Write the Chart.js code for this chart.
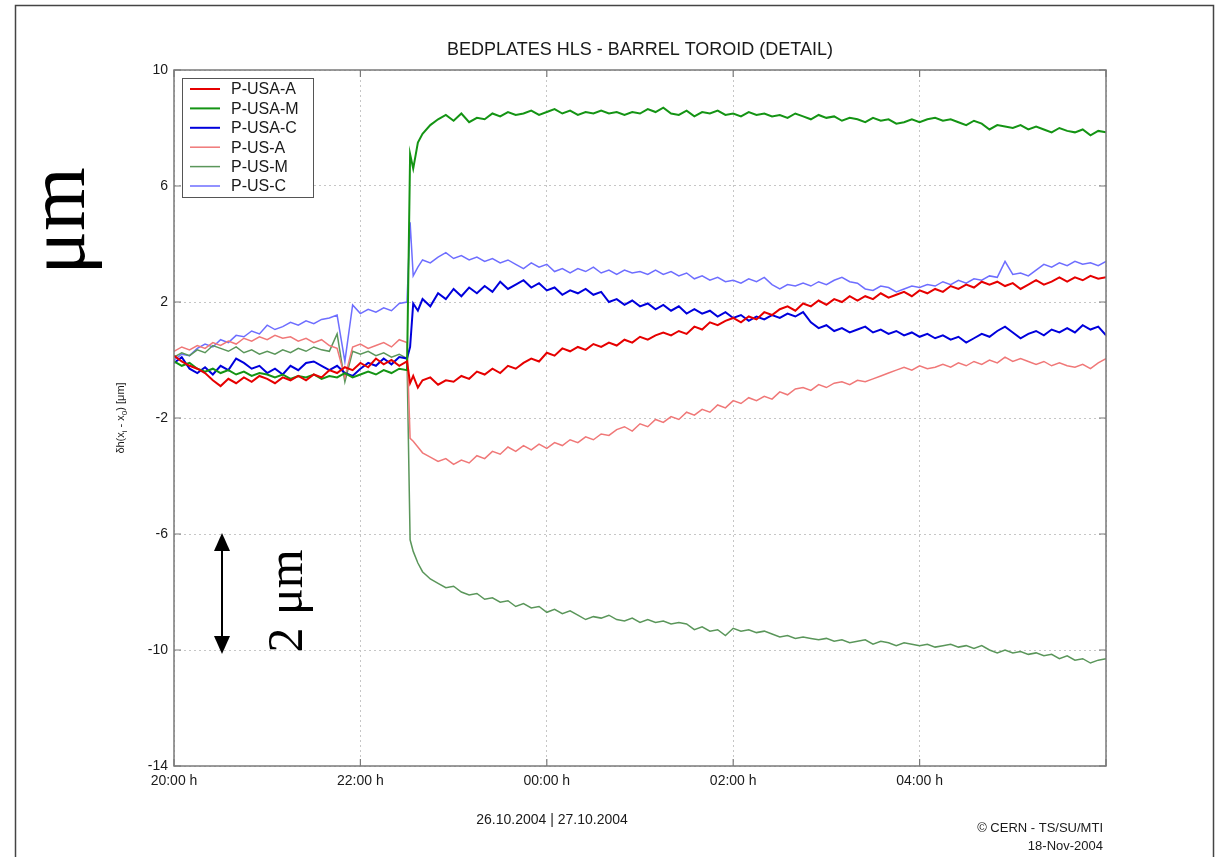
<!DOCTYPE html>
<html>
<head>
<meta charset="utf-8">
<script src="https://cdn.jsdelivr.net/npm/chart.js@4.4.0/dist/chart.umd.min.js"></script>
<style>
  html, body { margin: 0; padding: 0; background: #fff; }
  #wrap { width: 1220px; height: 857px; }
</style>
</head>
<body>
<div id="wrap"><canvas id="canvasHls" width="1220" height="857"></canvas></div>
<script>
// minutes after 20:00 on 26.10.2004
var times = [
    0, 5, 10, 15, 20, 25, 30, 35, 40, 45,
    50, 55, 60, 65, 70, 75, 80, 85, 90, 95,
    100, 105, 110, 115, 120, 125, 130, 135, 140, 145,
    150, 152, 154, 157,
    160, 165, 170, 175, 180, 185, 190, 195, 200, 205,
    210, 215, 220, 225, 230, 235, 240, 245, 250, 255,
    260, 265, 270, 275, 280, 285, 290, 295, 300, 305,
    310, 315, 320, 325, 330, 335, 340, 345, 350, 355,
    360, 365, 370, 375, 380, 385, 390, 395, 400, 405,
    410, 415, 420, 425, 430, 435, 440, 445, 450, 455,
    460, 465, 470, 475, 480, 485, 490, 495, 500, 505,
    510, 515, 520, 525, 530, 535, 540, 545, 550, 555,
    560, 565, 570, 575, 580, 585, 590, 595, 600
];

var pUsaA = [
    0.15, -0.05, -0.2, -0.3, -0.45, -0.7, -0.9, -0.65, -0.8, -0.6,
    -0.75, -0.55, -0.65, -0.8, -0.6, -0.7, -0.55, -0.7, -0.5, -0.6,
    -0.35, -0.45, -0.25, -0.35, -0.1, -0.25, 0.05, -0.15, 0.0, -0.2,
    -0.05, -0.8, -0.55, -0.95,
    -0.7, -0.6, -0.85, -0.7, -0.75, -0.55, -0.65, -0.4, -0.5, -0.3,
    -0.45, -0.2, -0.3, -0.1, 0.05, -0.05, 0.25, 0.15, 0.4, 0.3,
    0.45, 0.35, 0.55, 0.45, 0.6, 0.5, 0.7, 0.6, 0.8, 0.7,
    0.85, 0.95, 0.85, 1.0, 0.9, 1.15, 1.05, 1.3, 1.2, 1.35,
    1.45, 1.3, 1.5, 1.4, 1.65, 1.55, 1.75, 1.85, 1.7, 1.95,
    1.85, 2.05, 1.9, 2.1, 2.0, 2.2, 2.05, 2.2, 2.1, 2.3,
    2.15, 2.25, 2.35, 2.2, 2.4, 2.3, 2.45, 2.35, 2.55, 2.45,
    2.6, 2.5, 2.7, 2.6, 2.7, 2.55, 2.65, 2.45, 2.6, 2.75,
    2.6, 2.7, 2.85, 2.7, 2.85, 2.75, 2.9, 2.8, 2.85
];

var pUsaM = [
    -0.05, -0.2, -0.1, -0.3, -0.4, -0.3, -0.45, -0.35, -0.5, -0.4,
    -0.55, -0.45, -0.5, -0.6, -0.5, -0.65, -0.55, -0.6, -0.5, -0.65,
    -0.55, -0.6, -0.45, -0.6, -0.5, -0.4, -0.5, -0.35, -0.45, -0.3,
    -0.35, 7.1, 6.6, 7.5,
    7.8, 8.1, 8.3, 8.45, 8.25, 8.5, 8.2, 8.35, 8.3, 8.5,
    8.4, 8.55, 8.45, 8.5, 8.6, 8.45, 8.55, 8.65, 8.5, 8.6,
    8.45, 8.55, 8.5, 8.6, 8.5, 8.55, 8.45, 8.55, 8.5, 8.65,
    8.55, 8.7, 8.5, 8.45, 8.6, 8.4, 8.55, 8.5, 8.6, 8.45,
    8.5, 8.4, 8.55, 8.45, 8.5, 8.4, 8.45, 8.35, 8.5, 8.4,
    8.3, 8.45, 8.35, 8.4, 8.25, 8.35, 8.3, 8.2, 8.35, 8.25,
    8.3, 8.15, 8.2, 8.3, 8.2, 8.3, 8.35, 8.25, 8.3, 8.2,
    8.1, 8.25, 8.15, 7.95, 8.1, 8.05, 8.0, 8.1, 7.95, 8.05,
    7.95, 7.85, 8.0, 7.9, 7.85, 7.95, 7.75, 7.9, 7.85
];

var pUsaC = [
    -0.1, 0.1, -0.3, -0.45, -0.25, -0.5, -0.2, -0.35, 0.05, -0.1,
    -0.3, -0.2, -0.45, -0.3, -0.5, -0.2, -0.35, -0.1, -0.05, -0.2,
    -0.35, -0.2, -0.45, -0.55, -0.3, -0.1, -0.2, 0.05, -0.15, 0.1,
    0.05, 0.45, 1.95, 1.7,
    2.1, 1.85, 2.3, 2.1, 2.45, 2.2, 2.5, 2.3, 2.55, 2.35,
    2.7, 2.45, 2.6, 2.75, 2.5, 2.65, 2.4, 2.5, 2.25, 2.4,
    2.3, 2.45, 2.25, 2.35, 2.0, 2.1, 1.9, 2.05, 1.85, 1.95,
    1.75, 1.9, 1.7, 1.85, 1.6, 1.75, 1.6, 1.7, 1.5, 1.65,
    1.45, 1.55, 1.35, 1.5, 1.4, 1.55, 1.45, 1.6, 1.5, 1.65,
    1.3, 1.1, 1.2, 1.0, 1.1, 0.95, 1.05, 1.15, 0.95, 1.05,
    0.9, 1.0, 0.85, 0.95, 0.8, 0.9, 0.75, 0.85, 0.7, 0.8,
    0.6, 0.75, 0.9, 0.8, 1.0, 1.15, 0.95, 0.75, 0.9, 1.0,
    0.85, 1.05, 0.95, 1.1, 0.95, 1.2, 1.05, 1.15, 0.85
];

var pUsA = [
    0.3, 0.45, 0.35, 0.5, 0.4, 0.6, 0.5, 0.65, 0.55, 0.75,
    0.65, 0.8, 0.7, 0.85, 0.75, 0.8, 0.65, 0.75, 0.6, 0.7,
    0.5, 0.4, -0.6, 0.45, 0.55, 0.4, 0.5, 0.6, 0.45, 0.7,
    0.6, -2.7, -2.8, -3.0,
    -3.2, -3.35, -3.5, -3.4, -3.6, -3.45, -3.55, -3.3, -3.4, -3.15,
    -3.25, -3.0, -3.15, -2.95, -3.1, -2.9, -3.05, -2.85, -2.95, -2.75,
    -2.85, -2.65, -2.75, -2.55, -2.6, -2.4, -2.3, -2.45, -2.2, -2.3,
    -2.05, -2.15, -1.95, -2.05, -1.8, -1.9, -1.7, -1.8, -1.55, -1.65,
    -1.4, -1.5, -1.3, -1.4, -1.25, -1.35, -1.1, -1.2, -1.0, -0.95,
    -1.05, -0.85, -0.95, -0.8, -0.75, -0.85, -0.7, -0.75, -0.65, -0.55,
    -0.45, -0.35, -0.25, -0.35, -0.2, -0.3, -0.25, -0.15, -0.25, -0.1,
    -0.2, -0.05, -0.15, 0.0, -0.1, 0.1, -0.05, 0.05, -0.05, -0.15,
    -0.05, -0.2, -0.1, -0.2, -0.25, -0.15, -0.3, -0.1, 0.05
];

var pUsM = [
    0.1, 0.25, 0.15, 0.35, 0.25, 0.5, 0.4, 0.3, 0.45, 0.25,
    0.35, 0.2, 0.3, 0.2, 0.35, 0.25, 0.4, 0.3, 0.45, 0.35,
    0.3, 0.9, -0.75, 0.3, 0.2, 0.3, 0.15, 0.25, 0.1, 0.2,
    0.05, -6.2, -6.6, -7.0,
    -7.3, -7.55, -7.7, -7.85, -7.8, -8.0, -8.1, -8.05, -8.25, -8.2,
    -8.35, -8.3, -8.5, -8.4, -8.55, -8.5, -8.7, -8.6, -8.75, -8.65,
    -8.8, -8.95, -8.85, -8.9, -8.8, -8.95, -9.0, -8.9, -9.05, -8.95,
    -9.05, -9.0, -9.1, -9.05, -9.1, -9.3, -9.2, -9.35, -9.3, -9.5,
    -9.25, -9.35, -9.3, -9.4, -9.35, -9.45, -9.55, -9.5, -9.6, -9.55,
    -9.6, -9.65, -9.6, -9.7, -9.65, -9.75, -9.7, -9.65, -9.8, -9.7,
    -9.75, -9.85, -9.75, -9.8, -9.85, -9.8, -9.9, -9.85, -9.8, -9.9,
    -9.85, -9.95, -9.85, -10.0, -10.1, -10.0, -10.1, -10.05, -10.15, -10.1,
    -10.2, -10.15, -10.3, -10.2, -10.35, -10.3, -10.45, -10.35, -10.3
];

var pUsC = [
    0.0, 0.2, 0.15, 0.4, 0.55, 0.45, 0.7, 0.6, 0.85, 0.8,
    1.0, 0.9, 1.2, 1.05, 1.15, 1.3, 1.2, 1.35, 1.25, 1.4,
    1.45, 1.55, -0.05, 1.9, 1.6, 1.75, 1.65, 1.8, 1.7, 1.95,
    2.0, 4.75, 2.9, 3.2,
    3.45, 3.35, 3.55, 3.7, 3.5, 3.6, 3.45, 3.55, 3.4, 3.5,
    3.35, 3.45, 3.3, 3.15, 3.35, 3.2, 3.3, 3.05, 3.15, 3.0,
    3.15, 3.05, 3.2, 3.0, 3.1, 2.95, 3.1, 3.0, 3.05, 2.95,
    3.1, 2.95, 3.05, 2.9, 3.0, 2.8, 2.9, 2.75, 2.85, 2.7,
    2.75, 2.65, 2.8, 2.7, 2.85, 2.6, 2.45, 2.6, 2.55, 2.65,
    2.55, 2.7, 2.6, 2.75, 2.85, 2.7, 2.65, 2.45, 2.4, 2.55,
    2.5, 2.35, 2.45, 2.55, 2.5, 2.6, 2.55, 2.7, 2.6, 2.75,
    2.65, 2.8, 2.75, 2.9, 2.85, 3.4, 2.95, 3.0, 2.9, 3.1,
    3.3, 3.2, 3.35, 3.25, 3.4, 3.3, 3.35, 3.25, 3.4
];

var seriesNames = ['P-USA-A', 'P-USA-M', 'P-USA-C', 'P-US-A', 'P-US-M', 'P-US-C'];
var seriesValues = [pUsaA, pUsaM, pUsaC, pUsA, pUsM, pUsC];
var seriesColors = ['#e60000', '#149414', '#0000dc', '#f07878', '#5a965a', '#6e6eff'];
var seriesWidths = [2, 2, 2, 1.5, 1.5, 1.5];

var chartTitle = 'BEDPLATES HLS - BARREL TOROID (DETAIL)';
var dateLabel = '26.10.2004 | 27.10.2004';
var creditLines = ['\u00A9 CERN - TS/SU/MTI', '18-Nov-2004'];

var SANS = '"Liberation Sans", Arial, sans-serif';
var SERIF = '"Liberation Serif", "Times New Roman", serif';

function toPoints(vals) {
    return times.map((t, i) => ({ x: t, y: vals[i] }));
}

function hourLabel(v) {
    var h = (20 + Math.round(v / 60)) % 24;
    return (h < 10 ? '0' : '') + h + ':00 h';
}

// everything that is not a data line: frame, title, labels, legend, box
var decorPlugin = {
    id: 'decor',
    beforeDraw: function (chart) {
        var ctx = chart.ctx;
        ctx.save();
        ctx.fillStyle = '#ffffff';
        ctx.fillRect(0, 0, chart.width, chart.height);
        ctx.restore();
    },
    afterDraw: function (chart) {
        var ctx = chart.ctx;
        var area = chart.chartArea;
        var xs = chart.scales.x, ys = chart.scales.y;
        ctx.save();

        // outer figure frame
        ctx.strokeStyle = '#444';
        ctx.lineWidth = 1.5;
        ctx.beginPath();
        ctx.moveTo(15.5, 857);
        ctx.lineTo(15.5, 5.5);
        ctx.lineTo(1213.5, 5.5);
        ctx.lineTo(1213.5, 857);
        ctx.stroke();

        // axes box
        ctx.strokeStyle = '#7a7a7a';
        ctx.lineWidth = 1.5;
        ctx.strokeRect(area.left, area.top, area.right - area.left, area.bottom - area.top);

        // inner tick marks (left/right, bottom/top)
        ctx.lineWidth = 1.2;
        ys.ticks.forEach(function (t) {
            var py = ys.getPixelForValue(t.value);
            ctx.beginPath();
            ctx.moveTo(area.left, py); ctx.lineTo(area.left + 7, py);
            ctx.moveTo(area.right, py); ctx.lineTo(area.right - 7, py);
            ctx.stroke();
        });
        xs.ticks.forEach(function (t) {
            var px = xs.getPixelForValue(t.value);
            ctx.beginPath();
            ctx.moveTo(px, area.bottom); ctx.lineTo(px, area.bottom - 7);
            ctx.moveTo(px, area.top); ctx.lineTo(px, area.top + 7);
            ctx.stroke();
        });

        // title
        ctx.fillStyle = '#1a1a1a';
        ctx.font = '18px ' + SANS;
        ctx.textAlign = 'center';
        ctx.textBaseline = 'alphabetic';
        ctx.fillText(chartTitle, (area.left + area.right) / 2, 55);

        // y axis label with subscripts, rotated
        ctx.save();
        ctx.translate(124, (area.top + area.bottom) / 2);
        ctx.rotate(-Math.PI / 2);
        var parts = [['\u03B4h(x', 0], ['i', 1], [' - x', 0], ['0', 1], [') [\u03BCm]', 0]];
        var w = 0;
        parts.forEach(function (p) {
            ctx.font = (p[1] ? '8px ' : '11px ') + SANS;
            w += ctx.measureText(p[0]).width;
        });
        var cx = -w / 2;
        ctx.textAlign = 'left';
        parts.forEach(function (p) {
            ctx.font = (p[1] ? '8px ' : '11px ') + SANS;
            ctx.fillText(p[0], cx, p[1] ? 3 : 0);
            cx += ctx.measureText(p[0]).width;
        });
        ctx.restore();

        // big unit mark on the left
        ctx.save();
        ctx.translate(84, 221);
        ctx.rotate(-Math.PI / 2);
        ctx.font = '82px ' + SERIF;
        ctx.fillStyle = '#000';
        ctx.textAlign = 'center';
        ctx.fillText('\u03BCm', 0, 0);
        ctx.restore();

        // scale arrow "2 um"
        var ax = area.left + 48;
        var yTop = ys.getPixelForValue(-6) - 1;
        var yBot = ys.getPixelForValue(-10) + 4;
        ctx.strokeStyle = '#000';
        ctx.fillStyle = '#000';
        ctx.lineWidth = 2;
        ctx.beginPath();
        ctx.moveTo(ax, yTop + 10); ctx.lineTo(ax, yBot - 10);
        ctx.stroke();
        ctx.beginPath();
        ctx.moveTo(ax, yTop); ctx.lineTo(ax - 8, yTop + 18); ctx.lineTo(ax + 8, yTop + 18); ctx.closePath();
        ctx.fill();
        ctx.beginPath();
        ctx.moveTo(ax, yBot); ctx.lineTo(ax - 8, yBot - 18); ctx.lineTo(ax + 8, yBot - 18); ctx.closePath();
        ctx.fill();

        ctx.save();
        ctx.translate(302, 601);
        ctx.rotate(-Math.PI / 2);
        ctx.font = '50px ' + SERIF;
        ctx.textAlign = 'center';
        ctx.fillText('2 \u03BCm', 0, 0);
        ctx.restore();

        // bottom texts
        ctx.fillStyle = '#1a1a1a';
        ctx.font = '14px ' + SANS;
        ctx.textAlign = 'center';
        ctx.textBaseline = 'middle';
        ctx.fillText(dateLabel, 552, 820);
        ctx.textAlign = 'right';
        ctx.font = '13px ' + SANS;
        ctx.fillText(creditLines[0], 1103, 828);
        ctx.fillText(creditLines[1], 1103, 846);

        // legend inside the axes, top-left
        var lx = 182, ly = 78, lw = 131, lh = 119;
        ctx.fillStyle = '#fff';
        ctx.fillRect(lx, ly, lw, lh);
        ctx.strokeStyle = '#555';
        ctx.lineWidth = 1;
        ctx.strokeRect(lx + 0.5, ly + 0.5, lw, lh);
        ctx.font = '16px ' + SANS;
        ctx.textAlign = 'left';
        ctx.textBaseline = 'middle';
        chart.data.datasets.forEach(function (ds, i) {
            var yy = ly + 11 + i * 19.4;
            ctx.strokeStyle = ds.borderColor;
            ctx.lineWidth = ds.borderWidth;
            ctx.beginPath();
            ctx.moveTo(lx + 8, yy); ctx.lineTo(lx + 38, yy);
            ctx.stroke();
            ctx.fillStyle = '#1a1a1a';
            ctx.fillText(ds.label, lx + 49, yy + 1);
        });

        ctx.restore();
    }
};

function drawHls() {
    var datasets = seriesNames.map((name, i) => ({
        label: name,
        data: toPoints(seriesValues[i]),
        borderColor: seriesColors[i],
        borderWidth: seriesWidths[i],
        pointRadius: 0,
        tension: 0,
        fill: false
    }));

    var config = {
        type: 'line',
        data: { datasets: datasets },
        options: {
            animation: false,
            responsive: false,
            events: [],
            layout: { padding: { top: 70, right: 114, bottom: 0, left: 0 } },
            plugins: {
                legend: { display: false },
                title: { display: false },
                tooltip: { enabled: false }
            },
            scales: {
                x: {
                    type: 'linear',
                    min: 0,
                    max: 600,
                    afterFit: function (s) { s.height = 91; },
                    grid: { color: '#c6c6c6', lineWidth: 1, drawTicks: false },
                    border: { display: false, dash: [2, 3] },
                    ticks: {
                        stepSize: 120,
                        autoSkip: false,
                        maxRotation: 0,
                        padding: 7,
                        color: '#1a1a1a',
                        font: { family: SANS, size: 14 },
                        callback: function (v) { return v >= 600 ? '' : hourLabel(v); }
                    }
                },
                y: {
                    min: -14,
                    max: 10,
                    afterFit: function (s) { s.width = 174; },
                    grid: { color: '#c6c6c6', lineWidth: 1, drawTicks: false },
                    border: { display: false, dash: [2, 3] },
                    ticks: {
                        stepSize: 4,
                        padding: 6,
                        color: '#1a1a1a',
                        font: { family: SANS, size: 14 }
                    }
                }
            }
        },
        plugins: [decorPlugin]
    };
    var ctx = document.getElementById('canvasHls').getContext('2d');
    return new Chart(ctx, config);
}

var hlsChart = drawHls();
</script>
</body>
</html>
